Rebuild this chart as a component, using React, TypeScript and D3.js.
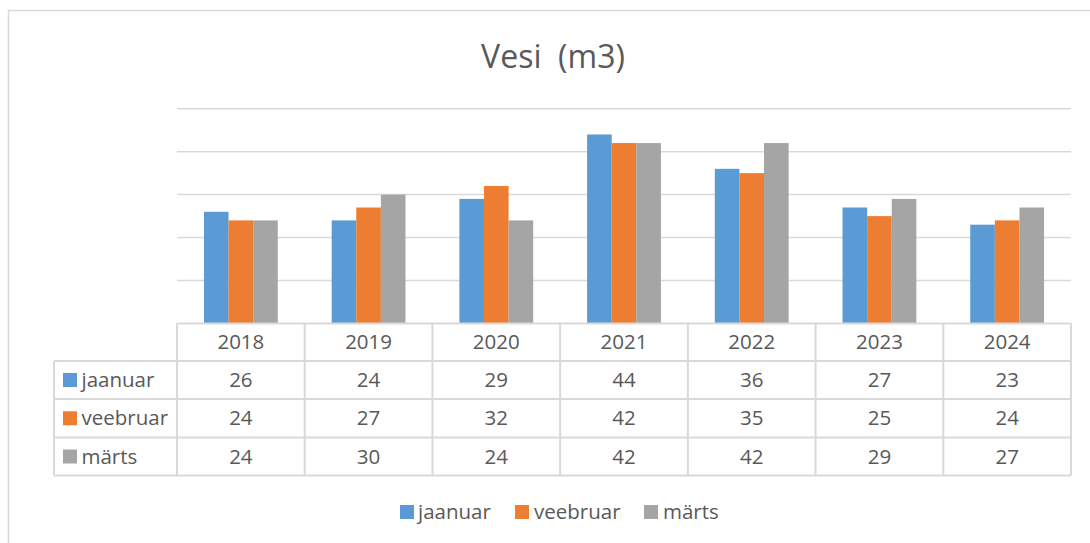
import React from "react";
import * as d3 from "d3";

const years = ["2018", "2019", "2020", "2021", "2022", "2023", "2024"];
const seriesNames = ["jaanuar", "veebruar", "märts"];
const jaanuar = [26, 24, 29, 44, 36, 27, 23];
const veebruar = [24, 27, 32, 42, 35, 25, 24];
const marts = [24, 30, 24, 42, 42, 29, 27];
const yTicks = [0, 10, 20, 30, 40, 50];
const colors = ["#5b9bd5", "#ed7d31", "#a5a5a5"];
const title = "Vesi  (m3)";

const W = 1090;
const H = 543;
const FONT = "'Open Sans', sans-serif";
const TXT = "#595959";
const LINE = "#d9d9d9";

export default function App() {
  const values = [jaanuar, veebruar, marts];
  const plotL = 177, plotR = 1071, plotT = 108.7, plotB = 323.5;
  const x = d3.scaleBand<string>().domain(years).range([plotL, plotR]).padding(0);
  const step = x.step();
  const groupW = step * 0.578;
  const xs = d3
    .scaleBand<string>()
    .domain(seriesNames)
    .range([(step - groupW) / 2, (step + groupW) / 2])
    .padding(0);
  const y = d3.scaleLinear().domain([0, 50]).range([plotB, plotT]);

  const rowY = [323.5, 361, 399, 437.5, 475.5];
  const tableL = 54;

  const legendItems = [
    { x: 400, tx: 418 },
    { x: 515, tx: 534 },
    { x: 644, tx: 663 },
  ];

  return (
    <svg
      width={W}
      height={H}
      style={{ position: "absolute", left: 0, top: 0, background: "#fff" }}
      fontFamily={FONT}
    >
      <rect x={0} y={0} width={W} height={H} fill="#fff" />
      <rect x={8.5} y={10.5} width={W + 20} height={H + 20} fill="#fff" stroke={LINE} strokeWidth={1.5} />
      <text x={553} y={68} textAnchor="middle" fontSize={32} fill={TXT} style={{ whiteSpace: "pre" }}>
        {title}
      </text>
      {yTicks.slice(1).map((t) => (
        <line key={t} x1={plotL} x2={plotR} y1={y(t)} y2={y(t)} stroke={LINE} strokeWidth={1.5} />
      ))}
      {years.map((yr, i) =>
        seriesNames.map((s, j) => {
          const v = values[j][i];
          return (
            <rect
              key={yr + s}
              x={(x(yr) as number) + (xs(s) as number)}
              y={y(v)}
              width={xs.bandwidth()}
              height={y(0) - y(v)}
              fill={colors[j]}
            />
          );
        })
      )}
      {/* table */}
      <line x1={plotL} x2={plotR} y1={rowY[0]} y2={rowY[0]} stroke={LINE} strokeWidth={2} />
      {rowY.slice(1).map((ry, k) => (
        <line key={k} x1={tableL} x2={plotR} y1={ry} y2={ry} stroke={LINE} strokeWidth={2} />
      ))}
      <line x1={tableL} x2={tableL} y1={rowY[1]} y2={rowY[4]} stroke={LINE} strokeWidth={2} />
      {d3.range(years.length + 1).map((k) => (
        <line
          key={k}
          x1={plotL + k * step}
          x2={plotL + k * step}
          y1={rowY[0]}
          y2={rowY[4]}
          stroke={LINE}
          strokeWidth={2}
        />
      ))}
      {years.map((yr) => (
        <text
          key={yr}
          x={(x(yr) as number) + step / 2}
          y={(rowY[0] + rowY[1]) / 2}
          dy="0.35em"
          textAnchor="middle"
          fontSize={20.5}
          fill={TXT}
        >
          {yr}
        </text>
      ))}
      {seriesNames.map((s, j) => {
        const cy = (rowY[j + 1] + rowY[j + 2]) / 2;
        return (
          <g key={s}>
            <rect x={63} y={cy - 7} width={14} height={14} fill={colors[j]} />
            <text x={81.5} y={cy} dy="0.35em" fontSize={20.5} fill={TXT}>
              {s}
            </text>
            {years.map((yr, i) => (
              <text
                key={yr}
                x={(x(yr) as number) + step / 2}
                y={cy}
                dy="0.35em"
                textAnchor="middle"
                fontSize={20.5}
                fill={TXT}
              >
                {values[j][i]}
              </text>
            ))}
          </g>
        );
      })}
      {/* legend */}
      {seriesNames.map((s, j) => (
        <g key={s}>
          <rect x={legendItems[j].x} y={505} width={14} height={14} fill={colors[j]} />
          <text x={legendItems[j].tx} y={512} dy="0.35em" fontSize={20.5} fill={TXT}>
            {s}
          </text>
        </g>
      ))}
    </svg>
  );
}
